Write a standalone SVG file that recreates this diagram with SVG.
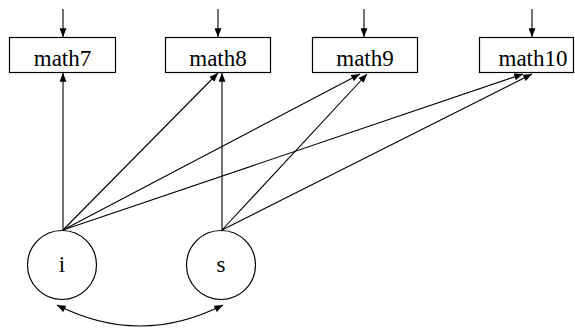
<svg xmlns="http://www.w3.org/2000/svg" width="575" height="329" viewBox="0 0 575 329">
<style>
.box{fill:#fff;stroke:#000;stroke-width:1.2}
.lat{fill:#fff;stroke:#000;stroke-width:1.2}
.edge{fill:none;stroke:#000;stroke-width:1.1}
</style>
<defs>
<marker id="ah" viewBox="0 0 10 8" refX="10" refY="4" markerWidth="9" markerHeight="7" markerUnits="userSpaceOnUse" orient="auto-start-reverse">
<path d="M0,0 L10,4 L0,8 Z" fill="#000"/>
</marker>
</defs>
<g id="connectors">
<line class="edge" x1="63" y1="9" x2="63" y2="37" marker-end="url(#ah)"/>
<line class="edge" x1="218" y1="9" x2="218" y2="37" marker-end="url(#ah)"/>
<line class="edge" x1="364" y1="9" x2="364" y2="37" marker-end="url(#ah)"/>
<line class="edge" x1="532" y1="9" x2="532" y2="37" marker-end="url(#ah)"/>
<line class="edge" x1="63" y1="230" x2="63" y2="73" marker-end="url(#ah)"/>
<line class="edge" x1="63" y1="230" x2="218" y2="73" marker-end="url(#ah)"/>
<line class="edge" x1="63" y1="230" x2="360" y2="74" marker-end="url(#ah)"/>
<line class="edge" x1="63" y1="230" x2="523" y2="74" marker-end="url(#ah)"/>
<line class="edge" x1="222" y1="230" x2="222" y2="73" marker-end="url(#ah)"/>
<line class="edge" x1="222" y1="230" x2="367" y2="74" marker-end="url(#ah)"/>
<line class="edge" x1="222" y1="230" x2="532" y2="74" marker-end="url(#ah)"/>
<path class="edge" d="M57,305 Q140,347 223,305" marker-start="url(#ah)" marker-end="url(#ah)"/>
</g>
<g font-family="Liberation Serif, Times New Roman, serif" font-size="23" text-anchor="middle" fill="#000">
<g id="math7"><rect class="box" x="9.5" y="37.5" width="106" height="35"/><text x="62.5" y="66">math7</text></g>
<g id="math8"><rect class="box" x="165.5" y="37.5" width="105" height="35"/><text x="218" y="66">math8</text></g>
<g id="math9"><rect class="box" x="312.5" y="37.5" width="105" height="35"/><text x="365" y="66">math9</text></g>
<g id="math10"><rect class="box" x="479.5" y="37.5" width="94" height="35"/><text x="533" y="66">math10</text></g>
<g id="i"><circle class="lat" cx="62" cy="265" r="34.5"/><text x="62" y="272">i</text></g>
<g id="s"><circle class="lat" cx="221" cy="265" r="34.5"/><text x="221" y="272">s</text></g>
</g>
</svg>
